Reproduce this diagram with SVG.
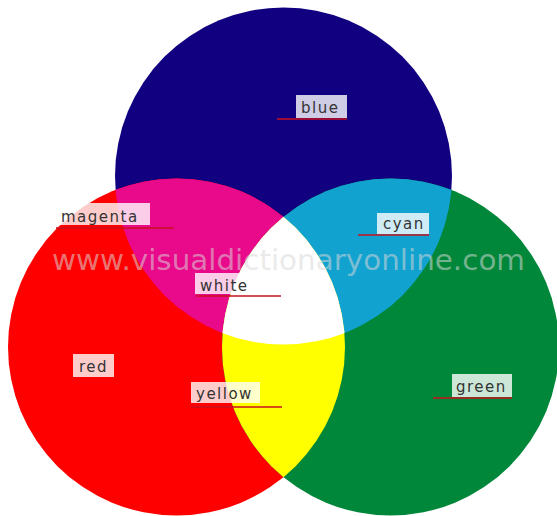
<svg xmlns="http://www.w3.org/2000/svg" width="557" height="516" viewBox="0 0 557 516">
<style>
.lbl{fill:#ffffff;fill-opacity:0.8}
.txt{font-family:"DejaVu Sans",Verdana,sans-serif;font-size:15px;fill:#333;letter-spacing:1.5px}
.ul{stroke:#c8101e;stroke-width:1.6;fill:none}
.wm{font-family:"DejaVu Sans",Verdana,sans-serif;font-size:28px;fill:#d8d8d8;fill-opacity:0.55}
</style>
<defs>
<clipPath id="cR"><circle cx="176.5" cy="347" r="168.5"/></clipPath>
<clipPath id="cG"><circle cx="390.5" cy="347" r="168.5"/></clipPath>
<clipPath id="cB"><circle cx="283.5" cy="176" r="168.5"/></clipPath>
</defs>
<rect width="557" height="516" fill="#ffffff"/>
<g id="circles">
<circle id="blue-circle" cx="283.5" cy="176" r="168.5" fill="#11007f"/>
<circle id="red-circle" cx="176.5" cy="347" r="168.5" fill="#ff0000"/>
<circle id="green-circle" cx="390.5" cy="347" r="168.5" fill="#00873a"/>
<g clip-path="url(#cB)"><circle id="magenta-area" cx="176.5" cy="347" r="168.5" fill="#e9098b"/></g>
<g clip-path="url(#cB)"><circle id="cyan-area" cx="390.5" cy="347" r="168.5" fill="#12a2cf"/></g>
<g clip-path="url(#cR)"><circle id="yellow-area" cx="390.5" cy="347" r="168.5" fill="#ffff00"/></g>
<g clip-path="url(#cR)"><g clip-path="url(#cG)"><circle id="white-area" cx="283.5" cy="176" r="168.5" fill="#ffffff"/></g></g>
</g>
<text class="wm" x="52" y="270" textLength="473" lengthAdjust="spacingAndGlyphs">www.visualdictionaryonline.com</text>
<g id="connectors">
<line class="ul" x1="277" y1="119" x2="347" y2="119"/>
<line class="ul" x1="56" y1="228" x2="174" y2="228"/>
<line class="ul" x1="358" y1="235" x2="429" y2="235"/>
<line class="ul" x1="196" y1="296" x2="281" y2="296"/>
<line class="ul" x1="191" y1="407" x2="282" y2="407"/>
<line class="ul" x1="433" y1="398" x2="512" y2="398"/>
</g>
<g id="label-blue"><rect class="lbl" x="296" y="95" width="51" height="23"/><text class="txt" x="301" y="113">blue</text></g>
<g id="label-magenta"><rect class="lbl" x="58" y="203" width="92" height="22"/><text class="txt" x="61" y="221.5">magenta</text></g>
<g id="label-cyan"><rect class="lbl" x="377" y="213" width="52" height="21"/><text class="txt" x="383" y="229">cyan</text></g>
<g id="label-white"><rect class="lbl" x="195" y="273" width="55" height="21"/><text class="txt" x="200" y="290.5">white</text></g>
<g id="label-red"><rect class="lbl" x="73" y="354" width="41" height="23"/><text class="txt" x="79" y="371.5">red</text></g>
<g id="label-yellow"><rect class="lbl" x="191" y="382" width="69" height="21"/><text class="txt" x="196" y="399">yellow</text></g>
<g id="label-green"><rect class="lbl" x="452" y="374" width="60" height="23"/><text class="txt" x="456" y="392">green</text></g>
</svg>
